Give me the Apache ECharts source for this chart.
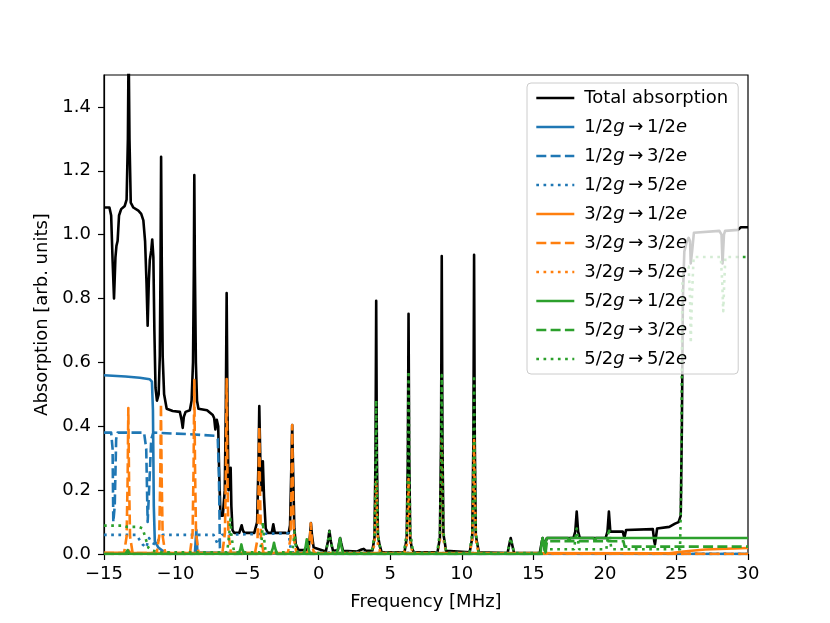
<!DOCTYPE html>
<html>
<head>
<meta charset="utf-8">
<script src="https://cdn.jsdelivr.net/npm/echarts@6/dist/echarts.min.js"></script>
<style>
  html, body { margin: 0; padding: 0; background: #fff; }
  #chart { width: 830px; height: 623px; }
</style>
</head>
<body>
<div id="chart"></div>
<script>
// 数据: [frequency MHz, absorption]
const totalAbs = [
  [-15, 1.085], [-14.62, 1.085], [-14.5, 1.06], [-14.4, 0.92], [-14.3, 0.80], [-14.2, 0.93],
  [-14.13, 0.965], [-14.05, 0.98], [-13.95, 1.06], [-13.8, 1.08], [-13.55, 1.09], [-13.42, 1.11],
  [-13.33, 1.3], [-13.28, 1.6], [-13.22, 1.3], [-13.13, 1.10], [-12.95, 1.085], [-12.6, 1.075],
  [-12.4, 1.065], [-12.25, 1.045], [-12.13, 0.98], [-12.03, 0.85], [-11.95, 0.715], [-11.87, 0.85],
  [-11.8, 0.92], [-11.7, 0.95], [-11.63, 0.985], [-11.55, 0.93], [-11.48, 0.70], [-11.4, 0.52],
  [-11.3, 0.48], [-11.18, 0.50], [-11.1, 0.62], [-11.05, 0.9], [-11.01, 1.244], [-10.96, 0.9],
  [-10.9, 0.62], [-10.8, 0.5], [-10.62, 0.455], [-10.2, 0.448], [-9.7, 0.445], [-9.58, 0.42],
  [-9.5, 0.395], [-9.42, 0.43], [-9.3, 0.445], [-9.0, 0.45], [-8.88, 0.48], [-8.78, 0.6],
  [-8.72, 0.9], [-8.69, 1.187], [-8.65, 0.9], [-8.58, 0.6], [-8.5, 0.48], [-8.4, 0.455],
  [-7.8, 0.45], [-7.4, 0.435], [-7.3, 0.425], [-7.22, 0.39], [-7.12, 0.42], [-7.02, 0.40],
  [-6.95, 0.25], [-6.86, 0.12], [-6.7, 0.12], [-6.56, 0.2], [-6.49, 0.45], [-6.43, 0.817],
  [-6.37, 0.45], [-6.3, 0.2], [-6.2, 0.2], [-6.15, 0.27], [-6.1, 0.15], [-6.02, 0.075],
  [-5.9, 0.066], [-5.55, 0.066], [-5.45, 0.08], [-5.38, 0.09], [-5.3, 0.075], [-5.2, 0.066],
  [-4.5, 0.066], [-4.3, 0.1], [-4.2, 0.3], [-4.15, 0.463], [-4.08, 0.3], [-3.98, 0.2],
  [-3.9, 0.29], [-3.82, 0.18], [-3.7, 0.08], [-3.55, 0.066], [-3.28, 0.066], [-3.17, 0.093],
  [-3.06, 0.066], [-2.3, 0.066], [-2.1, 0.065], [-2.0, 0.09], [-1.92, 0.25], [-1.85, 0.404],
  [-1.78, 0.25], [-1.7, 0.08], [-1.6, 0.03], [-1.4, 0.012], [-0.9, 0.012], [-0.7, 0.02],
  [-0.6, 0.06], [-0.54, 0.097], [-0.47, 0.06], [-0.35, 0.02], [0.5, 0.008], [0.65, 0.04],
  [0.75, 0.073], [0.85, 0.04], [1.0, 0.01], [1.35, 0.012], [1.43, 0.035], [1.5, 0.05],
  [1.57, 0.035], [1.7, 0.01], [2.7, 0.008], [3.0, 0.014], [3.15, 0.016], [3.3, 0.01],
  [3.75, 0.01], [3.9, 0.05], [3.97, 0.3], [4.02, 0.793], [4.07, 0.3], [4.14, 0.06],
  [4.25, 0.03], [4.4, 0.005], [6.0, 0.005], [6.15, 0.05], [6.23, 0.3], [6.28, 0.752],
  [6.33, 0.3], [6.4, 0.05], [6.5, 0.02], [6.65, 0.005], [8.3, 0.005], [8.47, 0.05],
  [8.55, 0.35], [8.6, 0.933], [8.65, 0.35], [8.72, 0.06], [8.8, 0.04], [8.9, 0.01],
  [10.55, 0.005], [10.73, 0.05], [10.81, 0.35], [10.86, 0.937], [10.91, 0.35], [10.98, 0.06],
  [11.05, 0.04], [11.2, 0.005], [13.2, 0.003], [13.32, 0.03], [13.42, 0.05], [13.52, 0.03],
  [13.65, 0.003], [15.45, 0.003], [15.58, 0.035], [15.65, 0.05], [15.72, 0.035], [15.8, 0.012],
  [15.87, 0.04], [15.95, 0.05], [17.8, 0.05], [17.93, 0.07], [18.03, 0.133], [18.13, 0.07],
  [18.25, 0.05], [20.05, 0.05], [20.18, 0.07], [20.28, 0.133], [20.38, 0.07], [20.5, 0.07],
  [21.25, 0.07], [21.36, 0.05], [21.48, 0.075], [23.35, 0.078], [23.45, 0.04], [23.5, 0.03],
  [23.56, 0.05], [23.65, 0.08], [24.5, 0.085], [24.9, 0.095], [25.15, 0.10], [25.3, 0.12],
  [25.38, 0.4], [25.45, 0.8], [25.55, 0.947], [25.7, 0.974], [25.85, 0.99], [25.95, 0.98],
  [26.0, 0.91], [26.1, 0.95], [26.22, 1.006], [28.0, 1.012], [28.15, 1.0], [28.22, 0.91],
  [28.32, 1.0], [28.4, 1.012], [29.3, 1.015], [29.5, 1.023], [30, 1.023]
];

const g12e12 = [
  [-15, 0.56], [-13.5, 0.556], [-12.5, 0.552], [-11.8, 0.547], [-11.65, 0.54], [-11.58, 0.45],
  [-11.52, 0.15], [-11.45, 0.04], [-11.2, 0.02], [-10.6, 0.0], [-8.65, 0], [-8.55, 0.075],
  [-8.47, 0.005], [-2, 0], [30, 0]
];

const g12e32 = [
  [-15, 0.38], [-14.5, 0.38], [-14.4, 0.33], [-14.35, 0.1], [-14.25, 0.15], [-14.15, 0.36],
  [-14.05, 0.38], [-12.2, 0.38], [-12.05, 0.33], [-11.95, 0.1], [-11.85, 0.2], [-11.7, 0.36],
  [-11.55, 0.38], [-9, 0.375], [-7.2, 0.37], [-7.05, 0.36], [-6.97, 0.25], [-6.9, 0.02],
  [-6.8, 0], [30, 0]
];

const g12e52 = [
  [-15, 0.06], [-12.75, 0.06], [-12.6, 0.05], [-12.3, 0.03], [-12.05, 0.02], [-11.85, 0.05],
  [-11.65, 0.035], [-11.4, 0.03], [-11.1, 0.05], [-10.9, 0.06], [-7.35, 0.06], [-7.2, 0.045],
  [-7.05, 0.03], [-6.9, 0.045], [-6.75, 0.06], [-2.1, 0.065], [-2.0, 0.03], [-1.9, 0.005], [30, 0]
];

const g32e12 = [
  [-15, 0.004], [-13.45, 0.004], [-13.3, 0.012], [-13.15, 0.004], [24.5, 0.002], [25.5, 0.008],
  [27, 0.014], [30, 0.019]
];

const g32e32 = [
  [-15, 0.003], [-13.6, 0.003], [-13.42, 0.055], [-13.35, 0.23], [-13.3, 0.457], [-13.25, 0.23],
  [-13.18, 0.055], [-13.0, 0.003], [-11.32, 0.003], [-11.14, 0.056], [-11.07, 0.235], [-11.02, 0.47],
  [-10.97, 0.235], [-10.9, 0.056], [-10.72, 0.003], [-8.99, 0.003], [-8.81, 0.065], [-8.74, 0.27],
  [-8.69, 0.545], [-8.64, 0.27], [-8.57, 0.065], [-8.39, 0.003], [-6.73, 0.003], [-6.55, 0.066],
  [-6.48, 0.27], [-6.43, 0.548], [-6.38, 0.27], [-6.31, 0.066], [-6.13, 0.003], [-4.45, 0.003],
  [-4.27, 0.048], [-4.2, 0.2], [-4.15, 0.40], [-4.1, 0.2], [-4.03, 0.048], [-3.85, 0.003],
  [-2.15, 0.003], [-1.97, 0.048], [-1.9, 0.2], [-1.85, 0.404], [-1.8, 0.2], [-1.73, 0.048],
  [-1.55, 0.003], [-0.8, 0.002], [-0.67, 0.02], [-0.6, 0.06], [-0.55, 0.096], [-0.5, 0.06],
  [-0.43, 0.02], [-0.3, 0.002], [30, 0]
];

const g32e52 = [
  [-15, 0], [3.7, 0], [3.9, 0.03], [3.97, 0.12], [4.02, 0.23], [4.07, 0.12], [4.14, 0.03],
  [4.35, 0], [5.95, 0], [6.16, 0.03], [6.23, 0.12], [6.28, 0.235], [6.33, 0.12], [6.4, 0.03],
  [6.6, 0], [8.28, 0], [8.48, 0.045], [8.55, 0.18], [8.6, 0.357], [8.65, 0.18], [8.72, 0.045],
  [8.92, 0], [10.54, 0], [10.74, 0.045], [10.81, 0.18], [10.86, 0.357], [10.91, 0.18],
  [10.98, 0.045], [11.18, 0], [30, 0]
];

const g52e12 = [
  [-15, 0], [-13.5, 0], [-13.35, 0.012], [-13.2, 0], [-5.6, 0], [-5.47, 0.015], [-5.4, 0.03],
  [-5.33, 0.015], [-5.2, 0], [-3.35, 0], [-3.2, 0.018], [-3.12, 0.035], [-3.04, 0.018], [-2.9, 0],
  [-1.05, 0], [-0.91, 0.023], [-0.83, 0.046], [-0.75, 0.023], [-0.6, 0], [1.25, 0], [1.4, 0.025],
  [1.49, 0.049], [1.58, 0.025], [1.72, 0], [15.5, 0], [15.58, 0.035], [15.65, 0.05], [15.72, 0.035],
  [15.8, 0.01], [15.88, 0.04], [15.95, 0.05], [17.4, 0.05], [17.5, 0.042], [17.6, 0.05],
  [19.2, 0.05], [19.3, 0.042], [19.4, 0.05], [30, 0.05]
];

const g52e32 = [
  [-15, 0], [15.85, 0], [15.95, 0.04], [21.3, 0.04], [21.38, 0.023], [30, 0.023]
];

const g52e52 = [
  [-15, 0.089], [-13.6, 0.089], [-13.4, 0.085], [-12.6, 0.085], [-12.3, 0.08], [-12.1, 0.05],
  [-11.9, 0.02], [-11.6, 0.01], [-11.0, 0.005], [-6.4, 0.005], [-6.25, 0.06], [-6.17, 0.11],
  [-6.08, 0.05], [-5.9, 0.005], [-4.1, 0.005], [-3.97, 0.05], [-3.9, 0.10], [-3.82, 0.05],
  [-3.7, 0.005], [-1.85, 0.005], [-1.74, 0.04], [-1.68, 0.07], [-1.6, 0.03], [-1.45, 0.003],
  [0.5, 0.003], [0.65, 0.04], [0.75, 0.07], [0.85, 0.04], [1.0, 0.003], [3.7, 0.003],
  [3.9, 0.06], [3.97, 0.24], [4.02, 0.482], [4.07, 0.24], [4.14, 0.06], [4.35, 0.003],
  [5.95, 0.003], [6.16, 0.07], [6.23, 0.29], [6.28, 0.573], [6.33, 0.29], [6.4, 0.07],
  [6.6, 0.003], [8.28, 0.003], [8.48, 0.07], [8.55, 0.28], [8.6, 0.56], [8.65, 0.28],
  [8.72, 0.07], [8.8, 0.04], [8.92, 0.003], [10.54, 0.003], [10.74, 0.07], [10.81, 0.28],
  [10.86, 0.56], [10.91, 0.28], [10.98, 0.07], [11.05, 0.04], [11.18, 0.003], [13.2, 0.003],
  [13.32, 0.03], [13.42, 0.05], [13.52, 0.03], [13.65, 0.003], [15.8, 0.003], [16.0, 0.015],
  [17.85, 0.015], [18.03, 0.08], [18.2, 0.015], [20.1, 0.015], [20.28, 0.08], [20.45, 0.015],
  [25.25, 0.015], [25.33, 0.2], [25.38, 0.6], [25.42, 0.87], [25.6, 0.9], [25.85, 0.9],
  [25.95, 0.8], [26.0, 0.66], [26.08, 0.8], [26.2, 0.93], [28.1, 0.93], [28.2, 0.85],
  [28.27, 0.76], [28.34, 0.85], [28.42, 0.93], [30, 0.93]
];

const FONT = 'DejaVu Sans';
const LW = 2.6;
const DASHED = [10, 4.3];
const DOTTED = [2.7, 4.5];
const BLUE = '#1f77b4', ORANGE = '#ff7f0e', GREEN = '#2ca02c';

const makeLine = (name, data, color, type) => ({
  name: name,
  type: 'line',
  data: data,
  symbol: 'none',
  showSymbol: false,
  clip: true,
  lineStyle: { color: color, width: LW, type: type, cap: 'butt', join: 'round' },
  itemStyle: { color: color }
});

// 图例文字: g 和 e 用斜体
const legendFormatter = (name) => {
  if (name === 'Total absorption') return '{n|' + name + '}';
  const parts = name.split('→');
  return '{n|' + parts[0].slice(0, -1) + '}{i|g}{n|\u2009→\u2009' + parts[1].slice(0, -1) + '}{i|e}';
};

const option = {
  animation: false,
  backgroundColor: '#fff',
  grid: {
    left: 104, right: 82, top: 75, bottom: 69,
    show: true, borderColor: '#000', borderWidth: 1.2, backgroundColor: 'transparent'
  },
  legend: {
    orient: 'vertical',
    left: 527,
    top: 83,
    itemWidth: 38,
    itemHeight: 18,
    itemGap: 11,
    padding: [6, 10, 6, 8],
    backgroundColor: 'rgba(255,255,255,0.8)',
    borderColor: '#cccccc',
    borderWidth: 1,
    borderRadius: 4,
    selectedMode: false,
    itemStyle: { opacity: 0, borderWidth: 0 },
    lineStyle: { width: LW },
    formatter: legendFormatter,
    textStyle: {
      fontFamily: FONT,
      fontSize: 18,
      color: '#000',
      padding: [0, 0, 0, 5],
      rich: {
        n: { fontFamily: FONT, fontSize: 18, color: '#000' },
        i: { fontFamily: FONT, fontSize: 18, fontStyle: 'italic', color: '#000' }
      }
    }
  },
  xAxis: {
    type: 'value',
    min: -15,
    max: 30,
    interval: 5,
    name: 'Frequency [MHz]',
    nameLocation: 'middle',
    nameGap: 39,
    nameTextStyle: { fontFamily: FONT, fontSize: 18, color: '#000' },
    axisLine: { show: true, onZero: false, lineStyle: { color: '#000', width: 1.2 } },
    axisTick: { show: true, inside: false, length: 6, lineStyle: { color: '#000', width: 1.2 } },
    axisLabel: {
      fontFamily: FONT, fontSize: 18, color: '#000', margin: 11,
      formatter: (v) => (v < 0 ? '\u2212' + (-v) : String(v))
    },
    splitLine: { show: false }
  },
  yAxis: {
    type: 'value',
    min: 0,
    max: 1.5,
    interval: 0.2,
    name: 'Absorption [arb. units]',
    nameLocation: 'middle',
    nameGap: 48,
    nameTextStyle: { fontFamily: FONT, fontSize: 18, color: '#000' },
    axisLine: { show: true, onZero: false, lineStyle: { color: '#000', width: 1.2 } },
    axisTick: { show: true, inside: false, length: 6, lineStyle: { color: '#000', width: 1.2 } },
    axisLabel: {
      fontFamily: FONT, fontSize: 18, color: '#000', margin: 13,
      showMaxLabel: false,
      formatter: (v) => v.toFixed(1)
    },
    splitLine: { show: false }
  },
  series: [
    makeLine('Total absorption', totalAbs, '#000000', 'solid'),
    makeLine('1/2g→1/2e', g12e12, BLUE, 'solid'),
    makeLine('1/2g→3/2e', g12e32, BLUE, DASHED),
    makeLine('1/2g→5/2e', g12e52, BLUE, DOTTED),
    makeLine('3/2g→1/2e', g32e12, ORANGE, 'solid'),
    makeLine('3/2g→3/2e', g32e32, ORANGE, DASHED),
    makeLine('3/2g→5/2e', g32e52, ORANGE, DOTTED),
    makeLine('5/2g→1/2e', g52e12, GREEN, 'solid'),
    makeLine('5/2g→3/2e', g52e32, GREEN, DASHED),
    makeLine('5/2g→5/2e', g52e52, GREEN, DOTTED)
  ]
};

const chart = echarts.init(document.getElementById('chart'));
chart.setOption(option);
</script>
</body>
</html>
